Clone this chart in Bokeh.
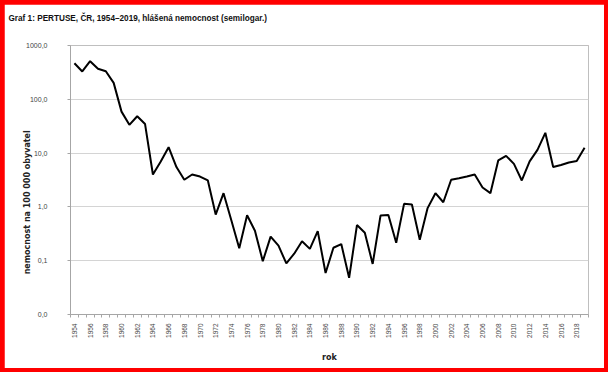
import math
from bokeh.plotting import figure
from bokeh.layouts import column
from bokeh.models import Range1d, FixedTicker, CustomJSTickFormatter, Title
from bokeh.embed import file_html
from bokeh.resources import INLINE

years = list(range(1954, 2020))
incidence = [469, 329, 511, 369, 333, 202, 59, 33.5, 48.5, 34.7,
             4.0, 7.0, 12.9, 5.5, 3.2, 4.0, 3.67, 3.1, 0.72, 1.8,
             0.56, 0.17, 0.70, 0.36, 0.098, 0.28, 0.19, 0.089, 0.135, 0.23,
             0.166, 0.355, 0.059, 0.174, 0.204, 0.048, 0.46, 0.33, 0.087, 0.69,
             0.71, 0.215, 1.14, 1.11, 0.245, 0.95, 1.8, 1.22, 3.2, 3.4,
             3.67, 4.0, 2.3, 1.8, 7.3, 8.9, 6.3, 3.1, 7.0, 11.5,
             23.8, 5.5, 6.0, 6.7, 7.1, 12.6]
y_ticks = [0.01, 0.1, 1, 10, 100, 1000]
title_text = "Graf 1: PERTUSE, ČR, 1954–2019, hlášená nemocnost (semilogar.)"
y_label = "nemocnost na 100 000 obyvatel"
x_label = "rok"

FONT = "Liberation Sans"

n = len(years)
xs = [i + 0.5 for i in range(n)]

p = figure(width=600, height=364, output_backend="svg", toolbar_location=None,
           y_axis_type="log", x_range=Range1d(0, n), y_range=Range1d(0.01, 1000),
           min_border_left=66, min_border_right=16, min_border_top=41, min_border_bottom=54,
           background_fill_color="white", border_fill_color="white")

p.line(xs, incidence, line_color="black", line_width=2)

# blank spacer between the title and the plot frame
p.add_layout(Title(text="\u00a0", text_font_size="8px", standoff=12), "above")

# title
p.title.text = title_text
p.title.align = "left"
p.title.offset = -62
p.title.standoff = 0
p.title.text_font = FONT
p.title.text_font_style = "bold"
p.title.text_font_size = "8.2px"
p.title.text_color = "#111111"

# x axis
xax = p.xaxis[0]
xax.ticker = FixedTicker(ticks=[xs[i] for i in range(0, n, 2)], minor_ticks=list(range(0, n + 1)))
xax.formatter = CustomJSTickFormatter(args=dict(start=years[0]), code="return String(start + Math.floor(tick));")
xax.major_label_orientation = math.pi / 2
xax.major_tick_line_color = None
xax.minor_tick_in = 0
xax.minor_tick_out = 3
xax.minor_tick_line_color = "#a6a6a6"
xax.axis_line_color = "#a6a6a6"
xax.major_label_text_font = FONT
xax.major_label_text_font_size = "6.5px"
xax.major_label_text_color = "#444444"
xax.major_label_standoff = 3
xax.axis_label = x_label
xax.axis_label_text_font = "DejaVu Sans"
xax.axis_label_text_font_style = "bold"
xax.axis_label_text_font_size = "8px"
xax.axis_label_text_color = "#222222"
xax.axis_label_standoff = 12

# y axis
yax = p.yaxis[0]
yax.ticker = FixedTicker(ticks=y_ticks, minor_ticks=[])
yax.formatter = CustomJSTickFormatter(code="return tick.toFixed(1).replace('.', ',');")
yax.major_tick_in = 0
yax.major_tick_out = 3
yax.major_tick_line_color = "#a6a6a6"
yax.minor_tick_line_color = None
yax.axis_line_color = "#a6a6a6"
yax.major_label_text_font = FONT
yax.major_label_text_font_size = "7px"
yax.major_label_text_color = "#444444"
yax.major_label_standoff = 20
yax.axis_label = y_label + "\u00a0" * 16
yax.axis_label_text_font = "DejaVu Sans"
yax.axis_label_text_font_style = "bold"
yax.axis_label_text_font_size = "8px"
yax.axis_label_text_color = "#222222"
yax.axis_label_standoff = -9

p.xgrid.grid_line_color = None
p.ygrid.ticker = FixedTicker(ticks=y_ticks, minor_ticks=[])
p.ygrid.grid_line_color = "#d4d4d4"
p.ygrid.grid_line_width = 1
p.outline_line_color = "#bfbfbf"

layout = column(p, styles={"background-color": "#ff0000", "padding": "4px"})

open("out.html", "w").write(file_html(layout, INLINE))
